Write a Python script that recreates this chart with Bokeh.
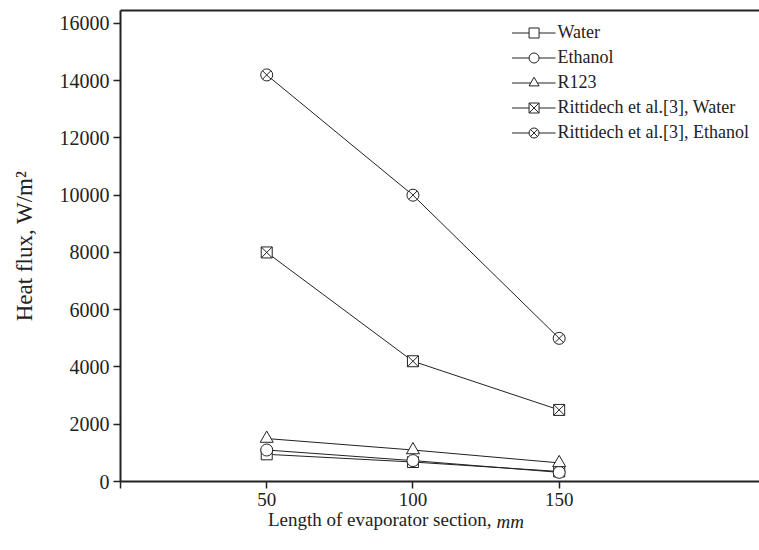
from bokeh.plotting import figure
from bokeh.models import Range1d, LinearAxis, FixedTicker, Legend, LegendItem, Label
from bokeh.embed import file_html
from bokeh.resources import INLINE

# ---- data ----
lengths = [50, 100, 150]
water = [950, 680, 350]
ethanol = [1100, 730, 320]
r123 = [1500, 1100, 650]
ritt_water = [8000, 4200, 2500]
ritt_ethanol = [14200, 10000, 5000]
series_names = ["Water", "Ethanol", "R123",
                "Rittidech et al.[3], Water", "Rittidech et al.[3], Ethanol"]
x_ticks = [0, 50, 100, 150]
y_ticks = [0, 2000, 4000, 6000, 8000, 10000, 12000, 14000, 16000]

FONT = "Liberation Serif"
INK = "#222222"

p = figure(width=759, height=550, output_backend="svg", toolbar_location=None,
           x_range=Range1d(0, 218.5), y_range=Range1d(0, 16450),
           min_border_left=120, min_border_right=0, min_border_top=10,
           min_border_bottom=68)
p.grid.visible = False
p.outline_line_color = None
p.background_fill_color = "white"

for ax in (p.xaxis[0], p.yaxis[0]):
    ax.axis_line_width = 2
    ax.axis_line_color = INK
    ax.major_tick_line_color = INK
    ax.major_tick_line_width = 1.5
    ax.major_tick_out = 7
    ax.major_tick_in = 0
    ax.minor_tick_line_color = None
    ax.major_label_text_font = FONT
    ax.major_label_text_color = INK

p.xaxis.ticker = FixedTicker(ticks=x_ticks)
p.xaxis.major_label_overrides = {0: ""}
p.xaxis.major_label_text_font_size = "19px"
p.xaxis.major_label_standoff = 4
p.xaxis.axis_label = None

p.yaxis.ticker = FixedTicker(ticks=y_ticks)
p.yaxis.major_label_text_font_size = "20px"
p.yaxis.major_label_standoff = 4
p.yaxis.axis_label = "Heat flux, W/m²"
p.yaxis.axis_label_text_font = FONT
p.yaxis.axis_label_text_font_size = "23px"
p.yaxis.axis_label_text_font_style = "normal"
p.yaxis.axis_label_text_color = INK
p.yaxis.axis_label_standoff = 20

top = LinearAxis(axis_line_width=2, axis_line_color=INK,
                 major_tick_line_color=None, minor_tick_line_color=None,
                 major_label_text_font_size="0px", ticker=FixedTicker(ticks=[]))
p.add_layout(top, "above")

# x-axis title with italic unit, placed in panels below the axis
p.add_layout(Label(x=126.9, y=10, x_units="data", y_units="screen",
                   text="Length of evaporator section,", text_align="right",
                   text_baseline="alphabetic", text_font=FONT,
                   text_font_size="19px", text_color=INK), "below")
p.add_layout(Label(x=128.6, y=29, x_units="data", y_units="screen",
                   text="mm", text_align="left", text_font_style="italic",
                   text_baseline="alphabetic", text_font=FONT,
                   text_font_size="19px", text_color=INK), "below")

series = [water, ethanol, r123, ritt_water, ritt_ethanol]
markers = ["square", "circle", "triangle", "square_x", "circle_x"]
sizes = [11, 12, 13, 11, 12]

items = []
for name, ys, mk, sz in zip(series_names, series, markers, sizes):
    ln = p.line(lengths, ys, line_color=INK, line_width=1)
    sc = p.scatter(lengths, ys, marker=mk, size=sz, fill_color="white",
                   line_color=INK, line_width=1)
    items.append(LegendItem(label=name, renderers=[ln, sc]))

legend = Legend(items=items, location="top_right", glyph_width=44,
                glyph_height=25, label_height=25, spacing=0, padding=0,
                margin=10, label_standoff=2, border_line_color=None,
                background_fill_alpha=0, label_text_font=FONT,
                label_text_font_size="18px", label_text_color=INK)
p.add_layout(legend)

open("out.html", "w").write(file_html(p, INLINE))
